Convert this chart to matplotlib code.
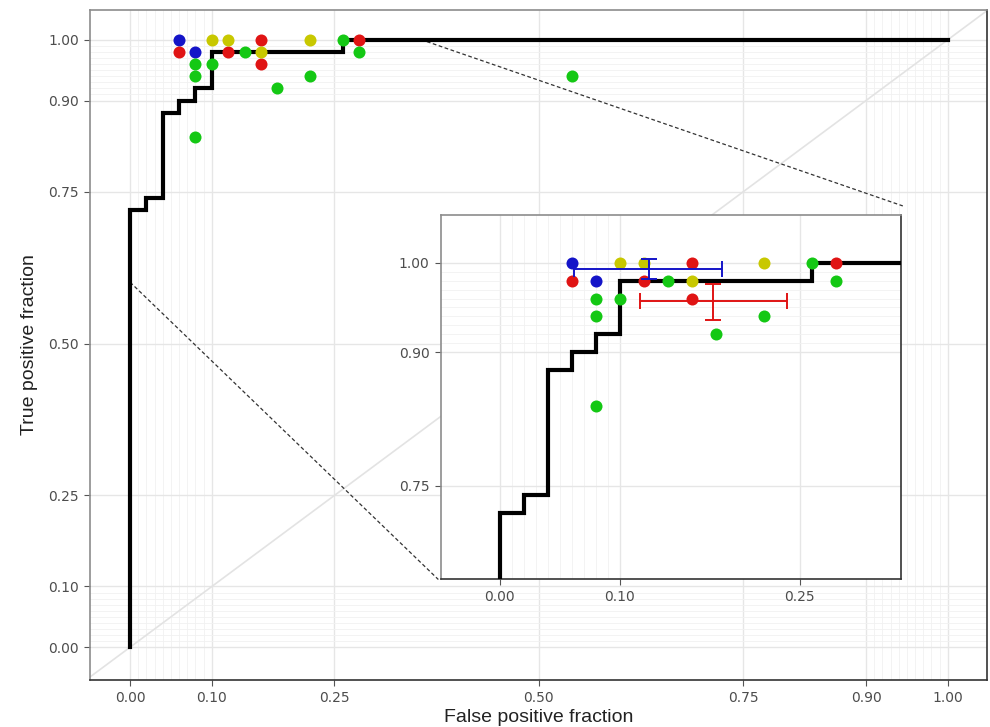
import matplotlib
matplotlib.use("Agg")

import matplotlib.pyplot as plt

# empirical ROC curve, vertices for a steps-post line
roc_fpr = [0.00, 0.00, 0.02, 0.04, 0.06, 0.08, 0.10, 0.26, 1.00]
roc_tpr = [0.00, 0.72, 0.74, 0.88, 0.90, 0.92, 0.98, 1.00, 1.00]

# individual readers / studies, one list pair per colour
blue_fpr = [0.06, 0.08]
blue_tpr = [1.00, 0.98]
red_fpr = [0.06, 0.12, 0.16, 0.16, 0.28]
red_tpr = [0.98, 0.98, 1.00, 0.96, 1.00]
yellow_fpr = [0.10, 0.12, 0.16, 0.22]
yellow_tpr = [1.00, 1.00, 0.98, 1.00]
green_fpr = [0.08, 0.08, 0.08, 0.10, 0.14, 0.18, 0.22, 0.26, 0.28, 0.54]
green_tpr = [0.96, 0.94, 0.84, 0.96, 0.98, 0.92, 0.94, 1.00, 0.98, 0.94]

# summary estimates with error bars (shown in the zoomed panel)
summary_fpr = [0.124, 0.178]
summary_tpr = [0.993, 0.957]
summary_fpr_lo = [0.062, 0.117]
summary_fpr_hi = [0.185, 0.239]
summary_tpr_lo = [0.982, 0.936]
summary_tpr_hi = [1.004, 0.976]

major_breaks = [0.00, 0.10, 0.25, 0.50, 0.75, 0.90, 1.00]
major_labels = ["0.00", "0.10", "0.25", "0.50", "0.75", "0.90", "1.00"]
minor_breaks = [0.01, 0.02, 0.03, 0.04, 0.05, 0.06, 0.07, 0.08, 0.09,
                0.91, 0.92, 0.93, 0.94, 0.95, 0.96, 0.97, 0.98, 0.99]

inset_xbreaks = [0.00, 0.10, 0.25]
inset_xlabels = ["0.00", "0.10", "0.25"]
inset_ybreaks = [0.75, 0.90, 1.00]
inset_ylabels = ["0.75", "0.90", "1.00"]

col_blue = '#1414c8'
col_red = '#e01414'
col_yellow = '#c8c800'
col_green = '#14c814'
tick_col = '#4d4d4d'


def style_panel(a, xb, xl, yb, yl, xminor, yminor):
    a.set_xticks(xb)
    a.set_xticklabels(xl)
    a.set_yticks(yb)
    a.set_yticklabels(yl)
    a.set_xticks(xminor, minor=True)
    a.set_yticks(yminor, minor=True)
    a.grid(which='major', color='#e6e6e6', lw=1.0, zorder=0)
    a.grid(which='minor', color='#f1f1f1', lw=0.6, zorder=0)
    a.set_axisbelow(True)
    a.tick_params(which='minor', length=0)
    a.tick_params(which='major', length=4, width=0.8, color='#555555',
                  labelcolor=tick_col, labelsize=10, pad=4)
    for side in ['top', 'left']:
        a.spines[side].set_color('#8c8c8c')
    for side in ['bottom', 'right']:
        a.spines[side].set_color('#333333')
    for s in a.spines.values():
        s.set_linewidth(1.2)


def draw_points(a):
    a.step(roc_fpr, roc_tpr, where='post', color='black', lw=3, zorder=3,
           solid_joinstyle='miter')
    ms = 75
    a.scatter(blue_fpr, blue_tpr, s=ms, color=col_blue, lw=0, zorder=4)
    a.scatter(red_fpr, red_tpr, s=ms, color=col_red, lw=0, zorder=4)
    a.scatter(yellow_fpr, yellow_tpr, s=ms, color=col_yellow, lw=0, zorder=4)
    a.scatter(green_fpr, green_tpr, s=ms, color=col_green, lw=0, zorder=4)


fig = plt.figure(figsize=(9.9, 7.27), dpi=100)
ax = fig.add_axes([0.0909, 0.0646, 0.9061, 0.9216])

ax.plot([-0.05, 1.05], [-0.05, 1.05], color='#e3e3e3', lw=1.2, zorder=1)
draw_points(ax)
ax.set_xlim(-0.049, 1.048)
ax.set_ylim(-0.054, 1.049)
style_panel(ax, major_breaks, major_labels, major_breaks, major_labels,
            minor_breaks, minor_breaks)
label_font = ['Liberation Sans Narrow', 'Liberation Sans']
ax.set_xlabel("False positive fraction", fontsize=14, color='#222222',
              family=label_font, labelpad=3)
ax.set_ylabel("True positive fraction", fontsize=14, color='#222222',
              family=label_font, labelpad=7)

# dashed connectors between the zoomed region and the inset
ax.plot([0.0, 0.377], [0.601, 0.1115], ls=(0, (3, 2)), color='#333333',
        lw=0.9, zorder=2)
ax.plot([0.363, 0.945], [0.997, 0.7265], ls=(0, (3, 2)), color='#333333',
        lw=0.9, zorder=2)

ins = ax.inset_axes([0.380, 0.113, 0.5625, 0.599], transform=ax.transData)
ins.set_facecolor('white')
draw_points(ins)
for i, col in enumerate([col_blue, col_red]):
    ins.errorbar([summary_fpr[i]], [summary_tpr[i]],
                 xerr=[[summary_fpr[i] - summary_fpr_lo[i]],
                       [summary_fpr_hi[i] - summary_fpr[i]]],
                 yerr=[[summary_tpr[i] - summary_tpr_lo[i]],
                       [summary_tpr_hi[i] - summary_tpr[i]]],
                 fmt='none', ecolor=col, elinewidth=1.4, capsize=6,
                 capthick=1.4, zorder=5)
ins.set_xlim(-0.049, 0.334)
ins.set_ylim(0.646, 1.054)
style_panel(ins, inset_xbreaks, inset_xlabels, inset_ybreaks, inset_ylabels,
            minor_breaks[:9], minor_breaks[9:])

fig.savefig("out.png", dpi=100)
